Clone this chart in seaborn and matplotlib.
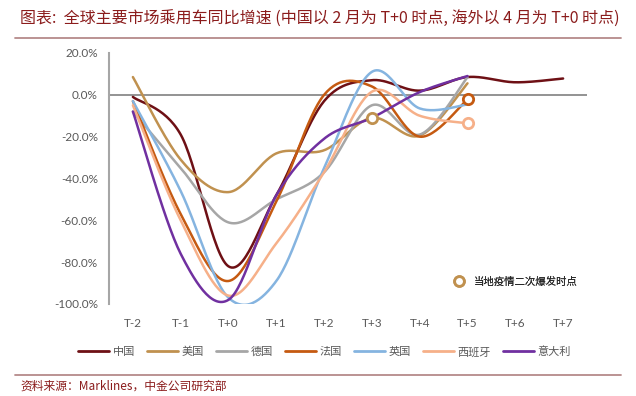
import numpy as np
import pandas as pd
import matplotlib
matplotlib.use('Agg')
import matplotlib.pyplot as plt
import seaborn as sns
from matplotlib.lines import Line2D

# 数据 (读图估算)
periods = ['T-2', 'T-1', 'T+0', 'T+1', 'T+2', 'T+3', 'T+4', 'T+5', 'T+6', 'T+7']
china = [-1, -19, -82, -48, -3, 7, 2, 8.5, 6, 7.8]
usa = [8.5, -31, -46.5, -28, -26.5, -11, -19.5, 5.5]
germany = [-8, -35, -61, -50, -37, -5, -19, 8.4]
france = [-3, -57, -89, -51, 0, 4, -20, -2.2]
uk = [-3, -46, -97, -89, -35, 11, -6.5, -4.6]
spain = [-5, -60, -96, -71, -37, 1.5, -10, -13.6]
italy = [-8, -76, -98, -48, -21, -11, 1.3, 9]

names = ['中国', '美国', '德国', '法国', '英国', '西班牙', '意大利']
series = [china, usa, germany, france, uk, spain, italy]
colors = ['#6e1015', '#c0914f', '#a6a6a6', '#c55a11', '#85b4e0', '#f6b089', '#7030a0']

# 二次爆发时点 (国家, 时点)
outbreak = [('美国', 'T+3'), ('法国', 'T+5'), ('西班牙', 'T+5')]

sns.set_theme(style='white')
plt.rcParams['font.family'] = ['Lato', 'Noto Sans CJK SC', 'DejaVu Sans']
plt.rcParams['axes.unicode_minus'] = False


def smooth(vals, n=30):
    # Excel 风格的平滑线 (Catmull-Rom)
    p = np.array(vals, dtype=float)
    x = np.arange(len(p), dtype=float)
    pp = np.concatenate([[p[0]], p, [p[-1]]])
    xp = np.concatenate([[x[0]], x, [x[-1]]])
    xs, ys = [], []
    for i in range(len(p) - 1):
        t = np.linspace(0, 1, n, endpoint=(i == len(p) - 2))
        for arr, out in ((xp, xs), (pp, ys)):
            a0, a1, a2, a3 = arr[i], arr[i + 1], arr[i + 2], arr[i + 3]
            c1 = a1 + (a2 - a0) / 6
            c2 = a2 - (a3 - a1) / 6
            out.extend((1 - t) ** 3 * a1 + 3 * (1 - t) ** 2 * t * c1
                       + 3 * (1 - t) * t ** 2 * c2 + t ** 3 * a2)
    return np.array(xs), np.array(ys)


rows = []
for name, vals in zip(names, series):
    xs, ys = smooth(vals)
    rows.append(pd.DataFrame({'x': xs, 'y': ys, '国家': name}))
df = pd.concat(rows, ignore_index=True)

fig = plt.figure(figsize=(6.36, 3.96), dpi=100)
ax = fig.add_axes([109 / 636, 1 - 304 / 396, 478 / 636, 251 / 396])

ax.axhline(0, color='#808080', lw=1.2, zorder=1)
sns.lineplot(data=df, x='x', y='y', hue='国家', palette=dict(zip(names, colors)),
             sort=False, estimator=None, lw=1.8, ax=ax, legend=False, zorder=3)

for name, per in outbreak:
    i = names.index(name)
    j = periods.index(per)
    ax.scatter(j, series[i][j], s=55, facecolor='white', edgecolor=colors[i],
               linewidth=2, zorder=5)

ax.set_xlim(-0.5, 9.5)
ax.set_ylim(-100, 20)
ax.set_yticks(np.arange(-100, 21, 20))
ax.set_yticklabels([f'{v:.1f}%' for v in np.arange(-100, 21, 20)])
ax.set_xticks(range(len(periods)))
ax.set_xticklabels(periods)
ax.tick_params(axis='both', length=0, labelsize=8.5, colors='#595959')
ax.tick_params(axis='y', pad=8)
ax.tick_params(axis='x', pad=10)
ax.set_xlabel('')
ax.set_ylabel('')
for s in ['top', 'right', 'bottom']:
    ax.spines[s].set_visible(False)
ax.spines['left'].set_color('#a6a6a6')
ax.spines['left'].set_linewidth(1.5)

# 时点图例
mk = Line2D([], [], marker='o', ls='none', markersize=7, markerfacecolor='white',
            markeredgecolor='#c0914f', markeredgewidth=2)
leg2 = ax.legend([mk], ['当地疫情二次爆发时点'], loc='lower right', frameon=False,
                 bbox_to_anchor=(1.0, 0.03), prop={'family': ['Noto Sans CJK SC'], 'size': 7.5},
                 handletextpad=0.4)
for t in leg2.get_texts():
    t.set_color('#262626')
ax.add_artist(leg2)

handles = [Line2D([], [], color=c, lw=2) for c in colors]
leg = fig.legend(handles, names, loc='center', bbox_to_anchor=(0.51, 1 - 352 / 396),
                 ncol=7, frameon=False, handlelength=2.8, handletextpad=0.3,
                 columnspacing=1.1, prop={'family': ['Noto Sans CJK SC'], 'size': 8})
for t in leg.get_texts():
    t.set_color('#595959')

red = '#8b1c1c'
fig.text(20 / 636, 1 - 19 / 396,
         '图表:  全球主要市场乘用车同比增速 (中国以 2 月为 T+0 时点, 海外以 4 月为 T+0 时点)',
         color=red, fontsize=11.5, ha='left', va='center', style='italic',
         family=['Noto Sans CJK SC', 'DejaVu Sans'])
fig.add_artist(Line2D([15 / 636, 621 / 636], [1 - 38 / 396] * 2, color='#b58a8a', lw=1.3))
fig.add_artist(Line2D([15 / 636, 621 / 636], [1 - 375 / 396] * 2, color='#b58a8a', lw=1.3))
fig.text(20 / 636, 1 - 386 / 396, '资料来源：Marklines，中金公司研究部',
         color=red, fontsize=8.5, ha='left', va='center', style='italic',
         family=['Noto Sans CJK SC', 'DejaVu Sans'])

fig.savefig('out.png', dpi=100)
